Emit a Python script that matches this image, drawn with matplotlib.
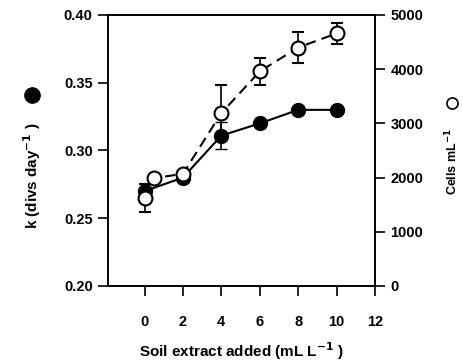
import matplotlib
matplotlib.use("Agg")
import matplotlib.pyplot as plt

plt.rcParams['font.family'] = ['Liberation Sans', 'DejaVu Sans']
plt.rcParams['font.weight'] = 'bold'
plt.rcParams['mathtext.default'] = 'bf'

# growth rate k (filled circles, left axis)
k_x = [0, 2, 4, 6, 8, 10]
k_y = [0.270, 0.280, 0.311, 0.320, 0.330, 0.330]
k_err = [0, 0, 0.010, 0, 0, 0]

# cell density (open circles, right axis)
cells_x = [0, 0.5, 2, 4, 6, 8, 10]
cells_y = [1620, 1990, 2070, 3190, 3960, 4400, 4660]
cells_err = [260, 0, 0, 520, 250, 290, 200]

x_ticks = [0, 2, 4, 6, 8, 10, 12]
k_ticks = [0.20, 0.25, 0.30, 0.35, 0.40]
cells_ticks = [0, 1000, 2000, 3000, 4000, 5000]

fig = plt.figure(figsize=(4.64, 3.64), dpi=100)
ax = fig.add_axes([0.2328, 0.2143, 0.5755, 0.7445])
ax2 = ax.twinx()

ax.errorbar(k_x, k_y, yerr=k_err, color='black', marker='o', markersize=10,
            markerfacecolor='black', linewidth=1.5, capsize=4, elinewidth=1.2, zorder=3)
ax2.errorbar(cells_x, cells_y, yerr=cells_err, color='black', marker='o', markersize=10,
             markerfacecolor='white', markeredgewidth=1.5, linewidth=1.5, linestyle=(0, (5, 3)),
             capsize=4, elinewidth=1.2, zorder=4)

ax.set_xlim(-1.9, 12)
ax.set_ylim(0.20, 0.40)
ax2.set_ylim(0, 5000)
ax.set_xticks(x_ticks)
ax.set_yticks(k_ticks)
ax2.set_yticks(cells_ticks)
ax.set_yticklabels(["%.2f" % v for v in k_ticks])

for a in (ax, ax2):
    for s in a.spines.values():
        s.set_linewidth(1.2)
ax.tick_params(axis='x', direction='out', length=7, width=1.2, pad=14, labelsize=10.5)
ax.tick_params(axis='y', direction='out', length=7, width=1.2, pad=4, labelsize=10.5)
ax2.tick_params(axis='y', direction='out', length=7, width=1.2, pad=4, labelsize=10.5)

ax.set_xlabel("Soil extract added (mL L$^{-1}$ )", fontsize=11, fontweight='bold', labelpad=8)

fig.text(0.069, 0.516, "k (divs day$^{-1}$ )", rotation=90, ha='center', va='center',
         fontsize=11, fontweight='bold')
fig.text(0.975, 0.557, "Cells mL$^{-1}$", rotation=90, ha='center', va='center',
         fontsize=9, fontweight='bold')
fig.lines.append(plt.Line2D([0.069], [1 - 95 / 364], marker='o', markersize=11,
                            color='black', transform=fig.transFigure))
fig.lines.append(plt.Line2D([0.975], [1 - 103 / 364], marker='o', markersize=8,
                            color='black', markerfacecolor='white', markeredgewidth=1.2,
                            transform=fig.transFigure))

fig.savefig("out.png", dpi=100)
